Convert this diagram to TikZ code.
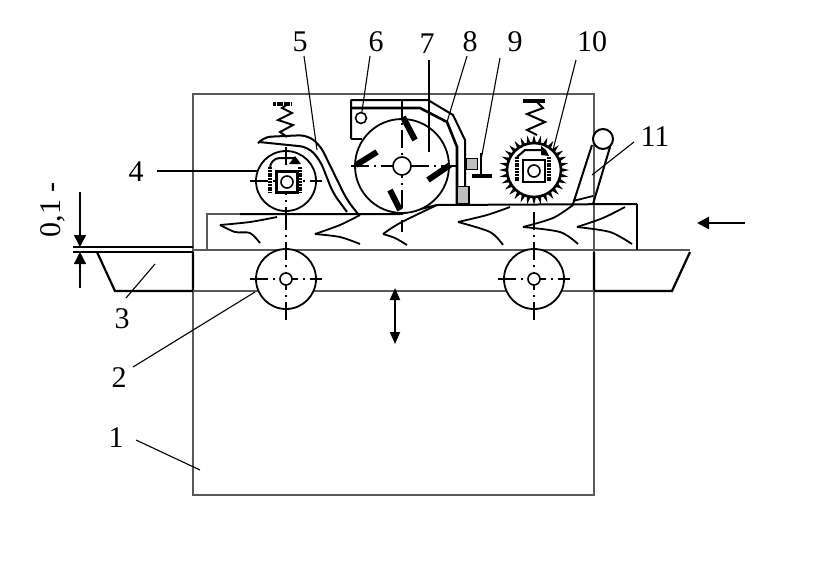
\documentclass[tikz,border=0pt]{standalone}
\usepackage{fontspec}
\setmainfont{Liberation Serif}
\usetikzlibrary{arrows.meta}
\tikzset{
  roller/.style={circle, draw, fill=white, inner sep=0pt, line width=0.9pt},
  hub/.style={circle, draw, fill=white, inner sep=0pt, line width=0.8pt},
  num/.style={inner sep=0pt, font=\fontsize{15}{15}\selectfont},
  leader/.style={line width=0.55pt},
  frame/.style={draw=black!65, line width=1.1pt},
  thick line/.style={line width=1pt},
  axis/.style={line width=0.8pt, dash pattern=on 9pt off 2.5pt on 1pt off 2.5pt},
  fibre/.style={line width=0.9pt, line join=round, smooth, tension=0.5},
  knife/.style={line width=3pt},
  bar/.style={line width=2.4pt, dash pattern=on 1pt off 0.4pt},
  filler/.style={draw, line width=0.8pt, fill=black!25}
}
\begin{document}
\begin{tikzpicture}[x=0.5pt, y=-0.5pt]

  \useasboundingbox (0,0) rectangle (840,568);

  \draw[frame] (193,94) rectangle (594,495);

  \draw[line width=1.1pt] (97,252) -- (115,291) -- (193,291) -- (193,252);
  \draw[line width=1.1pt] (690,252) -- (672,291) -- (594,291) -- (594,252);
  \draw[frame] (193,291) -- (594,291);
  \draw[line width=0.8pt] (73,247) -- (193,247);
  \draw[line width=1.1pt] (73,252) -- (193,252);
  \draw[frame] (193,250) -- (690,250);

  \draw[frame] (207,250) -- (207,214) -- (240,214);
  \draw[thick line] (240,214) -- (400,214) -- (437,205) -- (637,204);
  \draw[line width=0.9pt] (637,204) -- (637,250);

  \draw[fibre] plot coordinates {(277,217) (250,222) (220,225)};
  \draw[fibre] plot coordinates {(220,225) (235,232) (250,233) (260,243)};
  \draw[fibre] plot coordinates {(360,215) (340,225) (315,234)};
  \draw[fibre] plot coordinates {(315,234) (340,237) (360,244)};
  \draw[fibre] plot coordinates {(437,205) (400,223) (383,234)};
  \draw[fibre] plot coordinates {(383,234) (395,238) (407,245)};
  \draw[fibre] plot coordinates {(510,207) (487,215) (458,222)};
  \draw[fibre] plot coordinates {(458,222) (490,232) (503,245)};
  \draw[fibre] plot coordinates {(573,205) (553,218) (523,227)};
  \draw[fibre] plot coordinates {(523,227) (560,232) (578,244)};
  \draw[fibre] plot coordinates {(625,207) (603,218) (577,227)};
  \draw[fibre] plot coordinates {(577,227) (610,232) (632,244)};

  \node[roller, minimum size=30pt] (rollerA) at (286,279) {};
  \node[roller, minimum size=30pt] (rollerB) at (534,279) {};
  \node[roller, minimum size=30pt] (rollerC) at (286,181) {};
  \node[roller, minimum size=47pt] (drum) at (402,166) {};

  \draw[axis] (286,212) -- (286,322);
  \draw[axis] (250,279) -- (322,279);
  \draw[axis] (534,212) -- (534,322);
  \draw[axis] (498,279) -- (570,279);
  \draw[axis] (286,147) -- (286,212);
  \draw[axis] (250,181) -- (322,181);
  \draw[axis] (402,100) -- (402,232);
  \draw[axis] (351,166) -- (458,166);

  \node[hub, minimum size=6pt] (hubA) at (286,279) {};
  \node[hub, minimum size=6pt] (hubB) at (534,279) {};
  \node[hub, minimum size=9pt] (hubD) at (402,166) {};

  \draw[knife] (403,117) -- (415,140);
  \draw[knife] (356,165) -- (377,152);
  \draw[knife] (390,190) -- (400,210);
  \draw[knife] (428,180) -- (450,165);

  \draw[thick line, line join=round] (351,139) -- (351,100) -- (428,100) -- (453,115) -- (465,140) -- (465,204);
  \draw[line width=1.3pt, line join=round] (351,108) -- (420,108) -- (447,122) -- (457,147) -- (457,204);
  \draw[thick line] (351,139) -- (362,139);
  \node[hub, minimum size=5.5pt] (pin) at (361,118) {};
  \node[filler, minimum width=6pt, minimum height=8.5pt, inner sep=0pt] (block) at (463,195) {};

  \draw[thick line, rounded corners=4pt] (259,142) -- (263,137) -- (307,135) -- (320,145) -- (347,200) -- (358,214);
  \draw[thick line, rounded corners=4pt] (259,142) -- (308,147) -- (320,160) -- (333,193) -- (347,212);

  \node[hub, rectangle, minimum size=10.5pt, line width=1.1pt] (boxC) at (287,182) {};
  \node[hub, minimum size=6pt] (hubC) at (287,182) {};
  \draw[bar] (270,167) -- (270,193);
  \draw[bar] (300,167) -- (300,193);
  \draw[line width=1pt, rounded corners=5pt] (270,167) -- (270,158) -- (295,158);
  \fill (289,164) -- (295,156) -- (301,164) -- cycle;
  \draw[line width=1pt] (287,137) -- (280,132) -- (293,125) -- (278,120) -- (292,113) -- (282,108) -- (288,104);
  \draw[line width=2.2pt, dash pattern=on 1.5pt off 0.3pt] (273,104) -- (292,104);

  \foreach \ang in {0,11.25,...,349} {
    \fill ([shift={(\ang-5:26)}]534,170) -- ([shift={(\ang:35)}]534,170) -- ([shift={(\ang+5:26)}]534,170) -- cycle;
  }
  \node[roller, minimum size=27pt, line width=1.3pt] (rollerD) at (534,170) {};
  \node[hub, rectangle, minimum size=11pt, line width=1.1pt] (boxD) at (534,171) {};
  \node[hub, minimum size=6pt] (hubE) at (534,171) {};
  \draw[bar] (517,157) -- (517,182);
  \draw[bar] (549,157) -- (549,182);
  \draw[line width=1pt] (517,157) -- (525,150) -- (543,150);
  \fill (541,146) -- (546,150) -- (549,156) -- (541,155) -- cycle;
  \draw[line width=1pt] (537,135) -- (527,130) -- (545,122) -- (527,114) -- (543,108) -- (536,101);
  \draw[line width=1.8pt] (523,101) -- (545,101);

  \node[filler, minimum size=5.5pt, inner sep=0pt] (clamp) at (472,164) {};
  \draw[line width=1.3pt] (481,153) -- (481,175);
  \draw[line width=1.6pt] (472,176) -- (492,176);

  \draw[thick line] (592,145) -- (573,204);
  \draw[thick line] (610,147) -- (593,204);
  \draw[line width=0.9pt] (573,201) -- (593,196);
  \node[hub, minimum size=10pt, line width=1pt] (hopper) at (603,139) {};

  \draw[leader] (258,171) -- (157,171);

  \node[num] (lbA) at (116,438) {1};
  \node[num] (lbB) at (119,378) {2};
  \node[num] (lbC) at (122,319) {3};
  \node[num] (lbD) at (136,172) {4};
  \node[num] (lbE) at (300,42) {5};
  \node[num] (lbF) at (376,42) {6};
  \node[num] (lbG) at (427,44) {7};
  \node[num] (lbH) at (470,42) {8};
  \node[num] (lbI) at (515,42) {9};
  \node[num] (lbJ) at (592,42) {10};
  \node[num] (lbK) at (655,137) {11};
  \node[num, rotate=90] (lbGap) at (53,210) {0,1 -};

  \coordinate (endA) at (200,470);
  \coordinate (endB) at (255,292);
  \coordinate (endC) at (155,264);
  \coordinate (endE) at (317,150);
  \coordinate (endG) at (429,152);
  \coordinate (endH) at (447,122);
  \coordinate (endI) at (481,160);
  \coordinate (endJ) at (553,150);
  \coordinate (endK) at (592,175);
  \coordinate (startC) at (126,298);

  \draw[leader] (136,440) -- (endA);
  \draw[leader] (133,367) -- (endB);
  \draw[leader] (startC) -- (endC);
  \draw[leader] (304,56) -- (endE);
  \draw[leader] (370,56) -- (pin);
  \draw[leader] (429,60) -- (endG);
  \draw[leader] (467,56) -- (endH);
  \draw[leader] (500,58) -- (endI);
  \draw[leader] (576,60) -- (endJ);
  \draw[leader] (634,142) -- (endK);

  \coordinate (gapTop) at (80,247);
  \coordinate (gapTail) at (80,192);
  \coordinate (gapLow) at (80,252);
  \coordinate (gapEnd) at (80,288);
  \draw[-{Triangle[length=6pt,width=6pt]}, line width=0.7pt] (gapTail) -- (gapTop);
  \draw[-{Triangle[length=6pt,width=6pt]}, line width=0.6pt] (gapEnd) -- (gapLow);

  \coordinate (feedA) at (745,223);
  \coordinate (feedB) at (697,223);
  \draw[-{Triangle[length=6pt,width=6pt]}, line width=1.1pt] (feedA) -- (feedB);

  \coordinate (liftA) at (395,288);
  \coordinate (liftB) at (395,344);
  \draw[{Triangle[length=6pt,width=5pt]}-{Triangle[length=6pt,width=5pt]}, line width=0.9pt] (liftA) -- (liftB);

\end{tikzpicture}
\end{document}
